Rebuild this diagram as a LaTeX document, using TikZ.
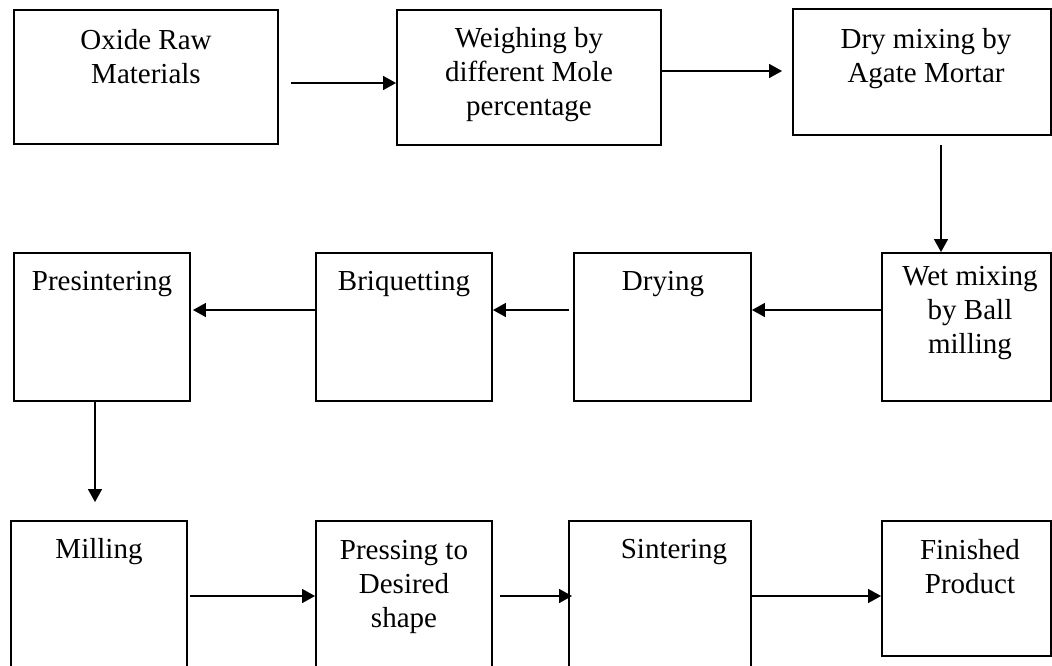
\documentclass[tikz,border=0pt]{standalone}
\usepackage{fontspec}
\setmainfont{Liberation Serif}
\usetikzlibrary{arrows.meta,calc}

\begin{document}
\begin{tikzpicture}[x=1pt, y=-1pt,
    stepbox/.style={draw, line width=1.9pt, inner sep=0pt},
    steptext/.style={anchor=base, align=center, inner sep=0pt, font=\fontsize{29}{34}\selectfont},
    flow/.style={line width=1.5pt, -{Triangle[length=13pt,width=14pt]}}]
    \useasboundingbox (0,0) rectangle (1052,665);
    \clip (0,0) rectangle (1052,665);
    % boxes: name / left / top / right / bottom
    \foreach \n/\xa/\ya/\xb/\yb in {oxide/14/10/278/144, weigh/397/10/661/145, drymix/793/9/1051/135,
        presint/14/253/190/401, briq/316/253/492/401, drying/574/253/751/401, wetmix/882/253/1051/401,
        milling/11/521/187/680, press/316/521/492/680, sinter/569/521/751/680, finish/882/521/1051/656}
        {\node[stepbox, minimum width={(\xb-\xa)*1pt}, minimum height={(\yb-\ya)*1pt}] (\n) at ({(\xa+\xb)/2},{(\ya+\yb)/2}) {};}
    % labels (placed at the baseline of their last line)
    \node[steptext] (oxide-t) at (146,83) {Oxide Raw\\Materials};
    \node[steptext] (weigh-t) at (529,115) {Weighing by\\different Mole\\percentage};
    \node[steptext] (drymix-t) at (926,82) {Dry mixing by\\Agate Mortar};
    \node[steptext] (presint-t) at (102,290) {Presintering};
    \node[steptext] (briq-t) at (404,290) {Briquetting};
    \node[steptext] (drying-t) at (663,290) {Drying};
    \node[steptext] (wetmix-t) at (970,353) {Wet mixing\\by Ball\\milling};
    \node[steptext] (milling-t) at (99,558) {Milling};
    \node[steptext] (press-t) at (404,627) {Pressing to\\Desired\\shape};
    \node[steptext] (sinter-t) at (674,558) {Sintering};
    \node[steptext] (finish-t) at (970,593) {Finished\\Product};
    % arrows
    \draw[flow, shorten <=12pt] ([yshift=-6pt]oxide.east) -- ([yshift=-6pt]oxide.east -| weigh.west);
    \draw[flow, shorten >=10pt] ([yshift=6.5pt]weigh.east) -- ([yshift=6.5pt]weigh.east -| drymix.west);
    \draw[flow, shorten <=9pt] ([xshift=19pt]drymix.south) -- ([xshift=19pt]drymix.south |- wetmix.north);
    \draw[flow] ([yshift=17pt]wetmix.west) -- ([yshift=17pt]wetmix.west -| drying.east);
    \draw[flow, shorten <=4pt] ([yshift=17pt]drying.west) -- ([yshift=17pt]drying.west -| briq.east);
    \draw[flow, shorten >=2pt] ([yshift=17pt]briq.west) -- ([yshift=17pt]briq.west -| presint.east);
    \draw[flow, shorten >=18pt] ([xshift=-7pt]presint.south) -- ([xshift=-7pt]presint.south |- milling.north);
    \draw[flow, shorten <=2pt] ([yshift=4.5pt]milling.east) -- ([yshift=4.5pt]milling.east -| press.west);
    \draw[flow, shorten <=7pt, shorten >=-4pt] ([yshift=4.5pt]press.east) -- ([yshift=4.5pt]press.east -| sinter.west);
    \draw[flow] ([yshift=4.5pt]sinter.east) -- ([yshift=4.5pt]sinter.east -| finish.west);
\end{tikzpicture}
\end{document}
